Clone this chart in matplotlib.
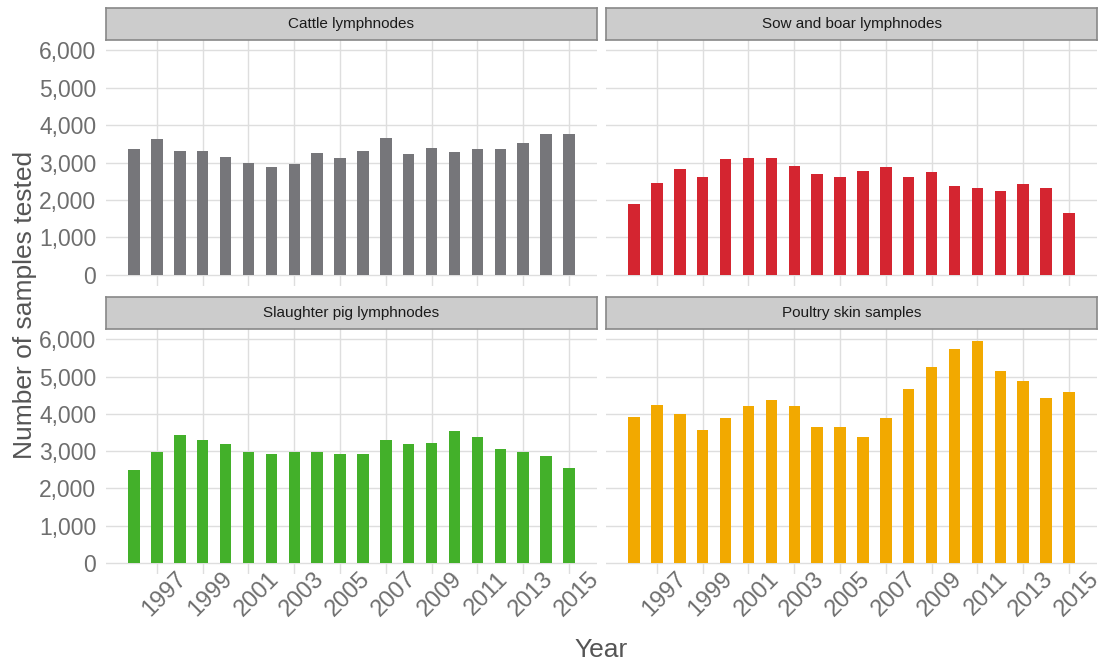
import matplotlib
matplotlib.use("Agg")
import matplotlib.pyplot as plt
import matplotlib.transforms as mtransforms

years = list(range(1996, 2016))

cattle = [3360, 3630, 3310, 3310, 3150, 2990, 2880, 2960, 3250, 3120,
          3310, 3650, 3230, 3390, 3280, 3360, 3360, 3520, 3760, 3760]
sow_boar = [1890, 2450, 2830, 2610, 3090, 3120, 3120, 2910, 2690, 2610,
            2770, 2880, 2610, 2750, 2370, 2320, 2240, 2420, 2320, 1650]
slaughter_pig = [2480, 2990, 3420, 3290, 3180, 2990, 2910, 2990, 2990, 2910,
                 2910, 3310, 3180, 3230, 3530, 3390, 3070, 2990, 2880, 2540]
poultry = [3930, 4250, 4010, 3580, 3880, 4200, 4360, 4220, 3660, 3660,
           3370, 3900, 4680, 5270, 5750, 5960, 5160, 4890, 4440, 4600]

panel_titles = ["Cattle lymphnodes", "Sow and boar lymphnodes",
                "Slaughter pig lymphnodes", "Poultry skin samples"]
panel_values = [cattle, sow_boar, slaughter_pig, poultry]
panel_colors = ["#76767A", "#D42530", "#43B02A", "#F2A900"]

x_ticks = list(range(1997, 2016, 2))
y_ticks = [0, 1000, 2000, 3000, 4000, 5000, 6000]

plt.rcParams['font.family'] = ["Liberation Sans", "DejaVu Sans"]

W, H = 1112, 666
fig = plt.figure(figsize=(W / 100, H / 100), dpi=100)

# panel boxes in pixels
lefts = [106, 606]
rows = [(40, 286), (329, 574)]
strip_h = 32

# shift rotated year labels so they sit like the ggplot ones
shift = mtransforms.ScaledTranslation(19 / 100, 6 / 100, fig.dpi_scale_trans)

for i, (title, vals, color) in enumerate(zip(panel_titles, panel_values, panel_colors)):
    r, c = divmod(i, 2)
    x0 = lefts[c]
    x1 = x0 + 491
    top, bot = rows[r]
    ax = fig.add_axes([x0 / W, (H - bot) / H, (x1 - x0) / W, (bot - top) / H])
    ax.bar(years, vals, width=0.5, color=color, zorder=2)
    span = 2015.25 - 1995.75
    ax.set_xlim(1995.75 - 0.05 * span, 2015.25 + 0.05 * span)
    ax.set_ylim(-300, 6280)
    ax.set_xticks(x_ticks)
    ax.set_yticks(y_ticks)
    ax.grid(True, color="#DEDEDE", linewidth=1.0, zorder=0)
    ax.set_axisbelow(True)
    for s in ax.spines.values():
        s.set_visible(False)
    ax.tick_params(length=0, colors="#6E6E6E", labelsize=16.5)
    ax.tick_params(axis="y", pad=7)
    ax.tick_params(axis="x", pad=0, labelsize=17)
    if c == 0:
        ax.set_yticklabels([f"{v:,}" for v in y_ticks])
    else:
        ax.set_yticklabels([])
    if r == 1:
        labels = ax.set_xticklabels([str(y) for y in x_ticks], rotation=45, ha="right",
                                    va="top", rotation_mode="anchor")
        for lab in labels:
            lab.set_transform(lab.get_transform() + shift)
    else:
        ax.set_xticklabels([])

    sax = fig.add_axes([x0 / W, (H - top) / H, (x1 - x0) / W, strip_h / H])
    sax.set_facecolor("#CCCCCC")
    sax.set_xticks([])
    sax.set_yticks([])
    for s in sax.spines.values():
        s.set_color("#888888")
        s.set_linewidth(1.2)
    sax.text(0.5, 0.5, title, ha="center", va="center", fontsize=11,
             color="#1A1A1A", transform=sax.transAxes)

fig.text(25 / W, 1 - 305 / H, "Number of samples tested", rotation=90,
         ha="center", va="center", fontsize=19, color="#555555")
fig.text(601 / W, 1 - 650 / H, "Year", ha="center", va="center",
         fontsize=19, color="#555555")

fig.savefig("out.png", dpi=100, facecolor="white")
